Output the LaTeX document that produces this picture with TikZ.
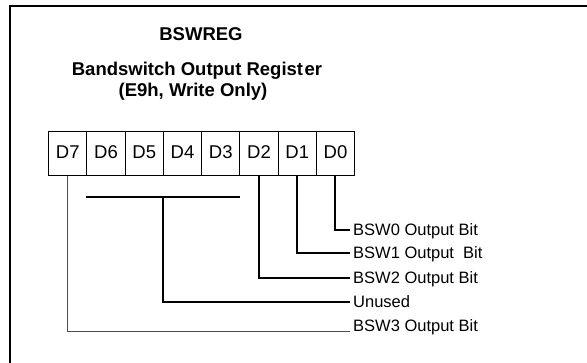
\documentclass[tikz,border=0pt]{standalone}
\usepackage{fontspec}
\setmainfont{Liberation Sans}
\begin{document}
\begin{tikzpicture}[x=1pt,y=-1pt,
  cell/.style={draw=black,line width=1.2pt,minimum width=38.25pt,minimum height=44pt,inner sep=0pt,anchor=north west,font=\fontsize{18.5}{20}\selectfont,text depth=0pt},
  ttl/.style={font=\fontsize{18.5}{21}\selectfont\bfseries,inner sep=0pt},
  lbl/.style={anchor=west,inner sep=2pt,font=\fontsize{16.5}{18}\selectfont},
  wire/.style={line width=2pt,black},
  thinwire/.style={line width=1pt,black!70}]
\useasboundingbox (0,0) rectangle (587,362);
\draw[line width=2pt] (10,364) -- (10,6) -- (589,6);
\node[ttl] (t1) at (201,34) {BSWREG};
\node[ttl] (t2) at (197,71) {Bandswitch Output Regist\kern1.5pt er};
\node[ttl] (t3) at (193,92) {(E9h, Write Only)};
\foreach \n [count=\i from 0] in {7,6,5,4,3,2,1,0}{
  \node[cell] (d\n) at ({48+38.25*\i},131) {\raisebox{3pt}{D\n}};
}
\node[lbl] (l0) at (351,231) {BSW0 Output Bit};
\node[lbl] (l1) at (351,254) {BSW1 Output\ \ Bit};
\node[lbl] (l2) at (351,279) {BSW2 Output Bit};
\node[lbl] (lu) at (351,302) {Unused};
\node[lbl] (l3) at (351,327) {BSW3 Output Bit};
\coordinate (bl) at (86,197);
\coordinate (br) at (240,197);
\coordinate (bm) at (163,197);
\coordinate (e0) at (350,230);
\coordinate (e1) at (350,253);
\coordinate (e2) at (350,278);
\coordinate (eu) at (350,301.5);
\coordinate (e3) at (350,331);
\draw[wire] (d0.south) |- (e0);
\draw[wire] (d1.south) |- (e1);
\draw[wire] (d2.south) |- (e2);
\draw[wire,line width=1.5pt] (bl) -- (br);
\draw[wire] (bm) |- (eu);
\draw[thinwire] (d7.south) |- (e3);
\end{tikzpicture}
\end{document}
